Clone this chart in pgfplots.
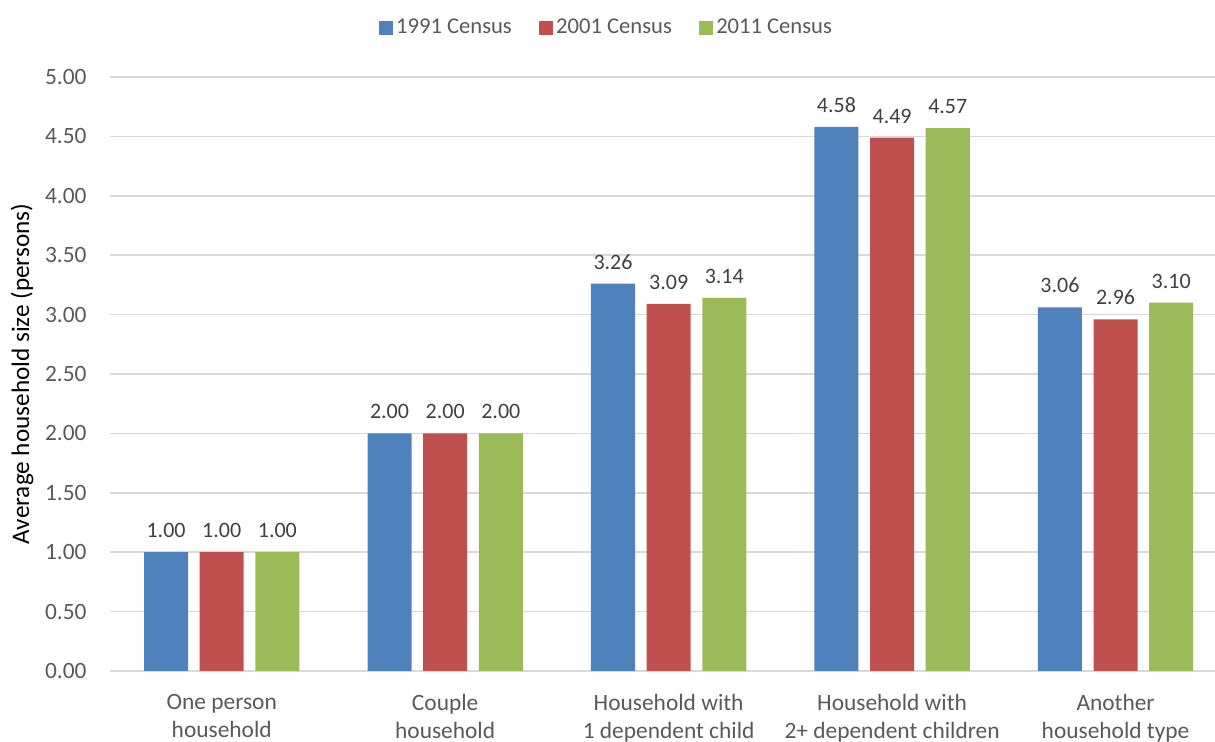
\documentclass[border=0pt]{standalone}
\usepackage{pgfplots}
\pgfplotsset{compat=1.18}
\usepackage{fontspec}
\setmainfont{Carlito}
\definecolor{cBlue}{HTML}{4F81BD}
\definecolor{cRed}{HTML}{C0504D}
\definecolor{cGreen}{HTML}{9BBB59}
\definecolor{txt}{HTML}{595959}
\definecolor{lbl}{HTML}{404040}
\definecolor{grd}{HTML}{D9D9D9}

\begin{document}
\begin{tikzpicture}
\useasboundingbox (-55pt,-35.5pt) rectangle (552.5pt,335.5pt);
\begin{axis}[
  at={(0,0)}, anchor=south west,
  scale only axis,
  width=552.5pt, height=297pt,
  ybar,
  xmin=-0.5, xmax=4.445,
  ymin=0, ymax=5,
  ytick={0,0.5,...,5},
  xtick={0,1,2,3,4},
  xticklabels={One person\\household, Couple\\household, Household with\\1 dependent child, Household with\\2+ dependent children, Another\\household type},
  axis line style={draw=none},
  major tick length=0pt,
  ymajorgrids,
  grid style={grd, line width=0.75pt},
  /pgf/number format/assume math mode=true,
  y tick label style={/pgf/number format/fixed, /pgf/number format/fixed zerofill, /pgf/number format/precision=2,
    font=\fontsize{11.7}{14}\selectfont, text=txt, inner sep=0pt, xshift=-11.5pt},
  x tick label style={font=\fontsize{11.7}{14}\selectfont, text=txt, align=center, inner sep=0pt, yshift=-11.5pt},
  ylabel={Average household size (persons)},
  ylabel style={at={(axis description cs:-0.0796,0.5)}, anchor=center, font=\fontsize{12.6}{15}\selectfont, text=black},
  bar width=0.197,
  nodes near coords,
  nodes near coords style={/pgf/number format/fixed, /pgf/number format/fixed zerofill, /pgf/number format/precision=2,
    font=\fontsize{11}{13}\selectfont, text=lbl, anchor=south, inner sep=0pt, yshift=7pt},
  legend columns=-1,
  legend style={at={(axis description cs:0.4498,1.0825)}, anchor=center, draw=none, fill=none,
    font=\fontsize{11.3}{13}\selectfont, text=txt, nodes={inner xsep=1.6pt},
    /tikz/every even column/.append style={column sep=12pt}},
  legend image code/.code={\fill[#1] (0pt,-3.5pt) rectangle (7pt,3.5pt);},
]
\addplot[fill=cBlue, draw=none, bar shift=-0.249] coordinates {(0,1.00) (1,2.00) (2,3.26) (3,4.58) (4,3.06)};
\addplot[fill=cRed, draw=none, bar shift=0] coordinates {(0,1.00) (1,2.00) (2,3.09) (3,4.49) (4,2.96)};
\addplot[fill=cGreen, draw=none, bar shift=0.249] coordinates {(0,1.00) (1,2.00) (2,3.14) (3,4.57) (4,3.10)};
\legend{1991 Census, 2001 Census, 2011 Census}
\end{axis}
\end{tikzpicture}
\end{document}
